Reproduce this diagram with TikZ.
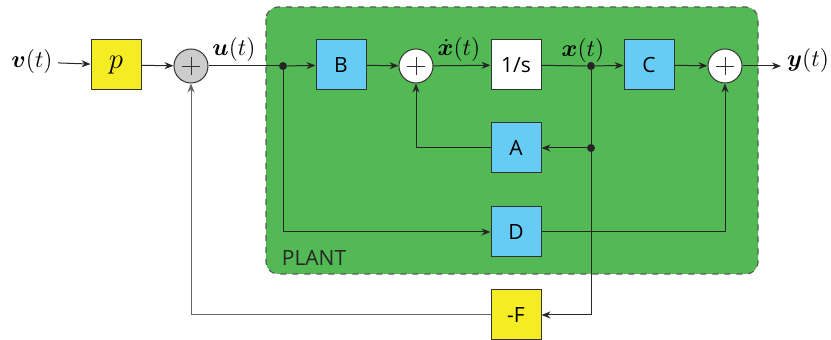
\documentclass[tikz,border=0pt]{standalone}
\usepackage{amsmath,bm}
\usepackage{fontspec}
\newfontfamily\blockfont{Open Sans}
\usetikzlibrary{arrows.meta,positioning}

\definecolor{blkyellow}{RGB}{246,236,36}
\definecolor{blkblue}{RGB}{102,204,245}
\definecolor{plantgreen}{RGB}{82,185,84}

\begin{document}
\begin{tikzpicture}[
    x=0.5pt, y=-0.5pt,
    font=\large,
    sig/.style={inner sep=0pt},
    blk/.style={draw=black!80, line width=0.5pt, minimum width=25pt, minimum height=25pt, inner sep=0pt, font=\blockfont\fontsize{10.5}{12}\selectfont},
    ctrl/.style={blk, fill=blkyellow},
    sys/.style={blk, fill=blkblue},
    sum/.style={circle, draw=black!80, line width=0.5pt, fill=white, minimum size=17pt, inner sep=0pt,
        path picture={\draw[black!80, line width=0.4pt] (path picture bounding box.center) +(-4.5pt,0) -- +(4.5pt,0)
            (path picture bounding box.center) +(0,-4.5pt) -- +(0,4.5pt);}},
    dot/.style={circle, fill=black!85, inner sep=0pt, minimum size=4pt},
    edge/.style={-{Stealth[length=4.5pt, width=3.5pt]}, black!85, line width=0.5pt},
    line/.style={black!85, line width=0.5pt}
]
\useasboundingbox (0,0) rectangle (831,340);
% plant area
\draw[draw=black!65, dashed, line width=0.6pt, fill=plantgreen, rounded corners=6pt] (266,7) rectangle (758,274);
\node[font=\blockfont\fontsize{10.5}{12}\selectfont, text=black!85] (plantlbl) at (314,258) {PLANT};

% blocks
\node[sig, inner xsep=2.5pt] (vin) at (32,62) {$\bm{v}(t)$};
\node[ctrl] (p) at (116,65) {\Large$p$};
\node[sum, fill=black!20] (s1) at (191,66) {};
\node[dot] (j1) at (283,66) {};
\node[sys] (B) at (341,65) {B};
\node[sum] (s2) at (416,66) {};
\node[blk, fill=white] (int) at (516,65) {1/s};
\node[dot] (j2) at (591,66) {};
\node[sys] (C) at (649,65) {C};
\node[sum] (s3) at (725,66) {};
\coordinate (yout) at (781,66);
\node[sig] (ylbl) at (808,61) {$\bm{y}(t)$};
\node[sys] (A) at (516,148) {A};
\node[dot] (j3) at (591,148) {};
\node[sys] (D) at (516,232) {D};
\node[ctrl] (F) at (516,315) {-F};

% signal labels
\node[sig] (ulbl) at (234,50) {$\bm{u}(t)$};
\node[sig] (xdlbl) at (459,50) {$\dot{\bm{x}}(t)$};
\node[sig] (xlbl) at (583,51) {$\bm{x}(t)$};

% connections
\draw[edge] (vin) -- (p);
\draw[edge] (p) -- (s1);
\draw[line] (s1) -- (j1);
\draw[edge] (j1) -- (B);
\draw[edge] (B) -- (s2);
\draw[edge] (s2) -- (int);
\draw[line] (int) -- (j2);
\draw[edge] (j2) -- (C);
\draw[edge] (C) -- (s3);
\draw[edge] (s3) -- (yout);
\draw[line] (j2) -- (j3);
\draw[edge] (j3) -- (A);
\draw[edge] (A) -| (s2);
\draw[edge] (j1) |- (D);
\draw[edge] (D) -| (s3);
\draw[edge] (j3) |- (F);
\draw[edge, black!60] (F) -| (s1);
\end{tikzpicture}
\end{document}
